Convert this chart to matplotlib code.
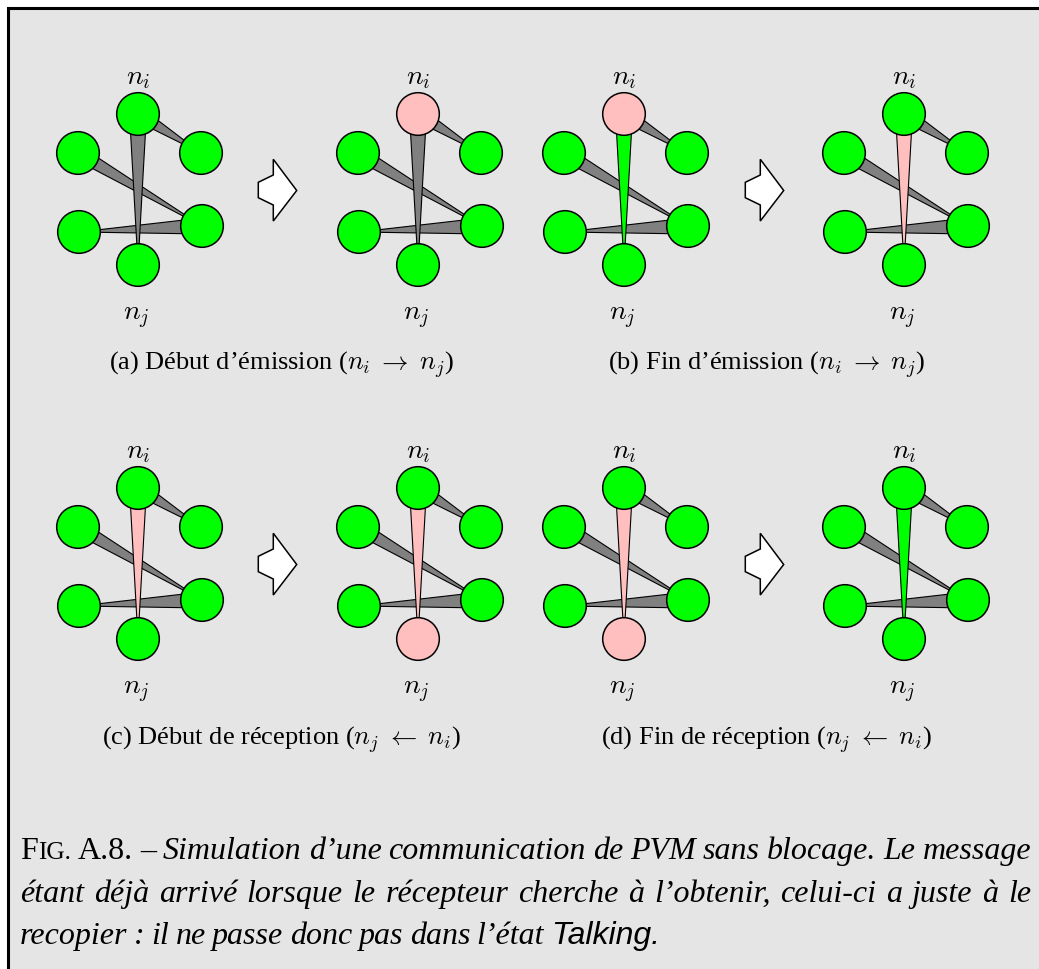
import matplotlib
matplotlib.use("Agg")
from matplotlib import pyplot as plt
from matplotlib.patches import Circle, Polygon, Rectangle

plt.rcParams['mathtext.fontset'] = 'cm'

# --- data: state of each of the 8 small graphs (row by row) ---
top_state = ['green', 'pink', 'pink', 'green', 'green', 'green', 'green', 'green']
bottom_state = ['green', 'green', 'green', 'green', 'green', 'pink', 'pink', 'green']
link_state = ['gray', 'gray', 'green', 'pink', 'pink', 'pink', 'pink', 'green']
subcaptions = [
    r"(a) Début d’émission ($n_i\;\rightarrow\;n_j$)",
    r"(b) Fin d’émission ($n_i\;\rightarrow\;n_j$)",
    r"(c) Début de réception ($n_j\;\leftarrow\;n_i$)",
    r"(d) Fin de réception ($n_j\;\leftarrow\;n_i$)",
]
FS = 23
caption_lines = [
    [[("F", "rm", FS), ("IG.", "rm", FS * 0.8)], [("A.8.", "rm", FS)], [("–", "rm", FS)],
     [("Simulation", "it", FS)], [("d’une", "it", FS)], [("communication", "it", FS)],
     [("de", "it", FS)], [("PVM", "it", FS)], [("sans", "it", FS)], [("blocage.", "it", FS)],
     [("Le", "it", FS)], [("message", "it", FS)]],
    [[(w, "it", FS)] for w in "étant déjà arrivé lorsque le récepteur cherche à l’obtenir, celui-ci a juste à le".split()],
    [[(w, "it", FS)] for w in "recopier : il ne passe donc pas dans l’état".split()]
    + [[("Talking.", "sf", FS)]],
]

COLORS = {'green': '#00ff00', 'pink': '#ffbfbf', 'gray': '#808080'}
BG = '#e5e5e5'

# node layout relative to the top node
nodes = {'top': (0, 0), 'lu': (-60, 39), 'ru': (63, 39),
         'll': (-59, 118), 'rl': (64, 112), 'bot': (0, 151)}
R = 21.3
panel_x = [138, 418, 624, 904]
row_y = [114, 488]
arrow_shape = [(273.3, 159.3), (296.7, 190.5), (273.3, 221), (273.3, 205),
               (258.3, 197.7), (258.3, 182.3), (273.3, 175)]
arrow_dx = [0, 487]
caption_xy = [(282, 365), (767, 365), (282, 740), (767, 740)]

fig = plt.figure(figsize=(10.39, 9.69), dpi=100)
ax = fig.add_axes([0, 0, 1, 1])
ax.set_xlim(0, 1039)
ax.set_ylim(969, 0)
ax.axis('off')

ax.add_patch(Rectangle((8, 8), 1100, 1100, facecolor=BG, edgecolor='black', lw=2.2))


def wedge(p, q, w, color):
    dx, dy = q[0] - p[0], q[1] - p[1]
    n = (dx * dx + dy * dy) ** 0.5
    nx, ny = -dy / n * w / 2, dx / n * w / 2
    ax.add_patch(Polygon([(p[0] + nx, p[1] + ny), (p[0] - nx, p[1] - ny), q],
                         closed=True, facecolor=color, edgecolor='black', lw=0.8, zorder=2))


k = 0
for r, y0 in enumerate(row_y):
    for c, x0 in enumerate(panel_x):
        pos = {name: (x0 + d[0], y0 + d[1]) for name, d in nodes.items()}
        wedge(pos['top'], pos['ru'], 14, COLORS['gray'])
        wedge(pos['lu'], pos['rl'], 14, COLORS['gray'])
        wedge(pos['rl'], pos['ll'], 16, COLORS['gray'])
        wedge(pos['top'], pos['bot'], 17, COLORS[link_state[k]])
        for name, p in pos.items():
            col = 'green'
            if name == 'top':
                col = top_state[k]
            elif name == 'bot':
                col = bottom_state[k]
            ax.add_patch(Circle(p, R, facecolor=COLORS[col], edgecolor='black', lw=1.1, zorder=3))
        ax.text(x0, y0 - 37, r"$n_i$", fontsize=20, ha='center', va='center')
        ax.text(x0 - 2, y0 + 203, r"$n_j$", fontsize=20, ha='center', va='center')
        k += 1
    for dx in arrow_dx:
        pts = [(x + dx, y + r * 374) for x, y in arrow_shape]
        ax.add_patch(Polygon(pts, closed=True, facecolor='white', edgecolor='black', lw=1.1, zorder=2))

for s, (x, y) in zip(subcaptions, caption_xy):
    ax.text(x, y, s, fontsize=19, family='Liberation Serif', ha='center', va='center')

# justified caption
renderer = fig.canvas.get_renderer()
STYLE = {'rm': dict(family='Liberation Serif'),
         'it': dict(family='Liberation Serif', style='italic'),
         'sf': dict(family='Liberation Sans', style='italic')}


def put_line(words, x0, x1, y, justify):
    placed = []
    total = 0
    for word in words:
        parts = []
        ww = 0
        for s, st, fs in word:
            t = ax.text(0, y, s, fontsize=fs, va='baseline', ha='left', **STYLE[st])
            w = t.get_window_extent(renderer).width
            parts.append((t, w))
            ww += w
        placed.append(parts)
        total += ww
    gap = (x1 - x0 - total) / (len(words) - 1) if justify else 6.5
    x = x0
    for parts in placed:
        for t, w in parts:
            t.set_x(x)
            x += w
        x += gap


baselines = [859, 902, 944]
for i, (words, yb) in enumerate(zip(caption_lines, baselines)):
    put_line(words, 20, 1031, yb, i < 2)

fig.savefig('out.png', dpi=100)
